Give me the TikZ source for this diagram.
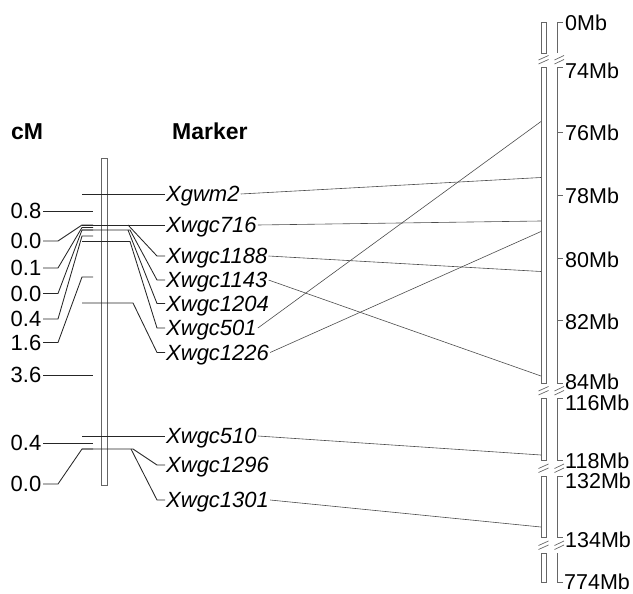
\documentclass[tikz,border=0pt]{standalone}
\usepackage{fontspec}
\setmainfont{Liberation Sans}
\begin{document}
\begin{tikzpicture}[x=1pt,y=-1pt,
  chrom/.style={draw=black!60, line width=0.9pt},
  mline/.style={draw=black!85, line width=0.85pt},
  conn/.style={draw=black!70, line width=0.6pt},
  axisline/.style={draw=black!60, line width=0.9pt},
  mk/.style={font=\fontsize{22}{24}\selectfont\itshape, inner xsep=1pt, inner ysep=0pt, text height=15.6pt, text depth=0pt, anchor=west},
  cmlab/.style={font=\fontsize{22}{24}\selectfont, inner xsep=1.5pt, inner ysep=0pt, text height=15.6pt, text depth=0pt, anchor=east},
  mblab/.style={font=\fontsize{21.5}{24}\selectfont, inner sep=0pt, text height=15.3pt, text depth=0pt, anchor=west},
  hd/.style={font=\fontsize{23}{25}\selectfont\bfseries, inner sep=0pt, text height=16.4pt, text depth=0pt, anchor=west}]
\useasboundingbox (0,0) rectangle (633,594);

% headers
\node[hd] (hcm) at (11,131) {cM};
\node[hd] (hmk) at (172,131) {Marker};

% left chromosome
\draw[chrom] (101.5,158) rectangle (107.5,485);

% marker labels
\node[mk] (gwm2) at (165,194) {Xgwm2};
\node[mk] (w716) at (165,225) {Xwgc716};
\node[mk] (w1188) at (165,256) {Xwgc1188};
\node[mk] (w1143) at (165,280) {Xwgc1143};
\node[mk] (w1204) at (165,303.5) {Xwgc1204};
\node[mk] (w501) at (165,328) {Xwgc501};
\node[mk] (w1226) at (165,352.5) {Xwgc1226};
\node[mk] (w510) at (165,436) {Xwgc510};
\node[mk] (w1296) at (165,465) {Xwgc1296};
\node[mk] (w1301) at (165,500) {Xwgc1301};

% marker lines
\draw[mline] (82,194) -- (gwm2.west);
\draw[mline] (82,225) -- (w716.west);
\draw[mline] (128,225) -- (157,256) -- (w1188.west);
\draw[mline] (82,230) -- (130,230) -- (157,280) -- (w1143.west);
\draw[mline] (128,230) -- (157,303.5) -- (w1204.west);
\draw[mline] (82,241.5) -- (130,241.5) -- (157,328) -- (w501.west);
\draw[mline] (82,303) -- (133,303) -- (157,352.5) -- (w1226.west);
\draw[mline] (82,436) -- (w510.west);
\draw[mline] (82,449) -- (133,449) -- (157,465) -- (w1296.west);
\draw[mline] (131,449) -- (157,500) -- (w1301.west);

% cM labels
\node[cmlab] (c1) at (43,211) {0.8};
\node[cmlab] (c2) at (43,241) {0.0};
\node[cmlab] (c3) at (43,268) {0.1};
\node[cmlab] (c4) at (43,293.5) {0.0};
\node[cmlab] (c5) at (43,319) {0.4};
\node[cmlab] (c6) at (43,342.5) {1.6};
\node[cmlab] (c7) at (43,375) {3.6};
\node[cmlab] (c8) at (43,443) {0.4};
\node[cmlab] (c9) at (43,484) {0.0};

\draw[mline] (c1.east) -- (93,211);
\draw[mline] (c2.east) -- (58,241) -- (82,225) -- (93,225);
\draw[mline] (c3.east) -- (58,268) -- (82,227.5) -- (93,227.5);
\draw[mline] (c4.east) -- (58,293.5) -- (82,230) -- (93,230);
\draw[mline] (c5.east) -- (58,319) -- (82,236) -- (93,236);
\draw[mline] (c6.east) -- (58,342.5) -- (82,277) -- (93,277);
\draw[mline] (c7.east) -- (93,375);
\draw[mline] (c8.east) -- (93,443);
\draw[mline] (c9.east) -- (58,484) -- (82,449) -- (93,449);

% right chromosome segments
\draw[chrom] (541,22.5) rectangle (546.5,53);
\draw[chrom] (541,67) rectangle (546.5,383);
\draw[chrom] (541,398) rectangle (546.5,460);
\draw[chrom] (541,476) rectangle (546.5,537);
\draw[chrom] (541,553) rectangle (546.5,582);

% break marks
\foreach \yc in {60,391,468.5,545.5}{
  \draw[axisline, line width=0.7pt] (538.5,\yc) -- (548.5,\yc-4.5);
  \draw[axisline, line width=0.7pt] (538.5,\yc+4) -- (548.5,\yc-0.5);
  \draw[axisline, line width=0.7pt] (554.5,\yc) -- (564,\yc-4.5);
  \draw[axisline, line width=0.7pt] (554.5,\yc+4) -- (564,\yc-0.5);
}

% physical axis
\draw[axisline] (563,22.5) -- (557,22.5) -- (557,53);
\draw[axisline] (563,67) -- (557,67) -- (557,383) -- (563,383);
\foreach \t in {132.5,195,258.5,320.5}{ \draw[axisline] (557,\t) -- (563,\t); }
\draw[axisline] (563,398) -- (557,398) -- (557,460) -- (563,460);
\draw[axisline] (563,476) -- (557,476) -- (557,537.5) -- (563,537.5);
\draw[axisline] (557,553) -- (557,582) -- (563,582);

% Mb labels
\node[mblab] (m0) at (565,22.5) {0Mb};
\node[mblab] (m74) at (565,71) {74Mb};
\node[mblab] (m76) at (565,133) {76Mb};
\node[mblab] (m78) at (565,195.5) {78Mb};
\node[mblab] (m80) at (565,259.5) {80Mb};
\node[mblab] (m82) at (565,322) {82Mb};
\node[mblab] (m84) at (565,381.5) {84Mb};
\node[mblab] (m116) at (565,403) {116Mb};
\node[mblab] (m118) at (565,460.5) {118Mb};
\node[mblab] (m132) at (565,481) {132Mb};
\node[mblab] (m134) at (565,539.5) {134Mb};
\node[mblab] (m774) at (564,581.5) {774Mb};

% positions on physical map
\coordinate (p2) at (541,177.5);
\coordinate (p716) at (541,221);
\coordinate (p1188) at (541,271.5);
\coordinate (p1143) at (541,376);
\coordinate (p501) at (541,121.5);
\coordinate (p1226) at (541,231.5);
\coordinate (p510) at (541,455);
\coordinate (p1301) at (541,527);

\draw[conn] (gwm2.east) -- (p2);
\draw[conn] (w716.east) -- (p716);
\draw[conn] (w1188.east) -- (p1188);
\draw[conn] (w1143.east) -- (p1143);
\draw[conn] (w501.east) -- (p501);
\draw[conn] (w1226.east) -- (p1226);
\draw[conn] (w510.east) -- (p510);
\draw[conn] (w1301.east) -- (p1301);
\end{tikzpicture}
\end{document}
